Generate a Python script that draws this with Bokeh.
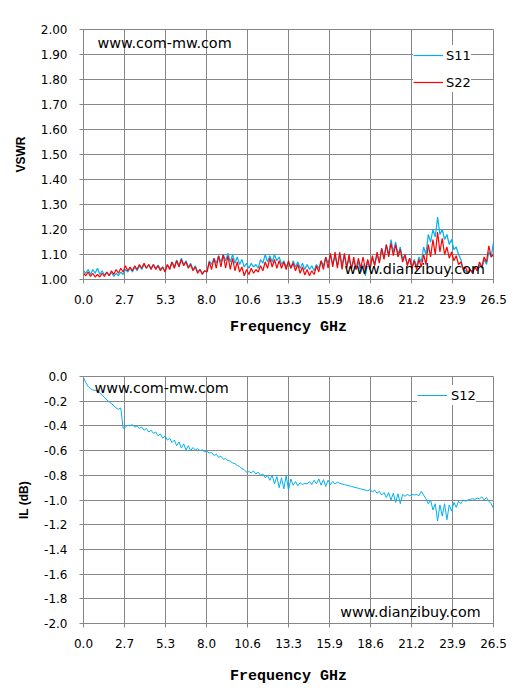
import numpy as np
from bokeh.plotting import figure
from bokeh.models import Range1d, FixedTicker, Label, Legend
from bokeh.layouts import column
from bokeh.embed import file_html
from bokeh.resources import INLINE

# ---------------- data ----------------
x_ticks = [0, 2.65, 5.3, 7.95, 10.6, 13.25, 15.9, 18.55, 21.2, 23.85, 26.5]
x_tick_labels = ["0.0", "2.7", "5.3", "8.0", "10.6", "13.3", "15.9", "18.6", "21.2", "23.9", "26.5"]
vswr_ticks = [1.0, 1.1, 1.2, 1.3, 1.4, 1.5, 1.6, 1.7, 1.8, 1.9, 2.0]
vswr_tick_labels = ["1.00", "1.10", "1.20", "1.30", "1.40", "1.50", "1.60", "1.70", "1.80", "1.90", "2.00"]
il_ticks = [-2.0, -1.8, -1.6, -1.4, -1.2, -1.0, -0.8, -0.6, -0.4, -0.2, 0.0]
il_tick_labels = ["-2.0", "-1.8", "-1.6", "-1.4", "-1.2", "-1.0", "-0.8", "-0.6", "-0.4", "-0.2", "0.0"]

s11 = [
    1.035, 1.025, 1.04, 1.02, 1.04, 1.025, 1.045, 1.02, 1.035, 1.018,
    1.03, 1.015, 1.028, 1.012, 1.025, 1.015, 1.03, 1.02, 1.04, 1.03,
    1.045, 1.03, 1.05, 1.035, 1.055, 1.04, 1.06, 1.045, 1.06, 1.045,
    1.06, 1.045, 1.058, 1.042, 1.05, 1.032, 1.058, 1.045, 1.07, 1.05,
    1.078, 1.055, 1.085, 1.06, 1.075, 1.05, 1.065, 1.04, 1.055, 1.03,
    1.04, 1.025, 1.035, 1.03, 1.075, 1.06, 1.085, 1.065, 1.095, 1.07,
    1.10, 1.075, 1.105, 1.07, 1.10, 1.065, 1.09, 1.06, 1.08, 1.05,
    1.065, 1.045, 1.065, 1.05, 1.06, 1.045, 1.08, 1.065, 1.10, 1.07,
    1.095, 1.07, 1.10, 1.075, 1.09, 1.06, 1.075, 1.05, 1.07, 1.045,
    1.075, 1.05, 1.07, 1.045, 1.065, 1.04, 1.06, 1.04, 1.055, 1.035,
    1.06, 1.045, 1.075, 1.055, 1.09, 1.065, 1.10, 1.06, 1.095, 1.055,
    1.10, 1.06, 1.095, 1.05, 1.085, 1.045, 1.075, 1.04, 1.07, 1.03,
    1.06, 1.015, 1.07, 1.04, 1.085, 1.06, 1.10, 1.07, 1.125, 1.09,
    1.14, 1.10, 1.16, 1.11, 1.15, 1.10, 1.13, 1.08, 1.10, 1.06,
    1.085, 1.05, 1.08, 1.05, 1.09, 1.07, 1.13, 1.10, 1.18, 1.15,
    1.20, 1.17, 1.25, 1.18, 1.20, 1.16, 1.18, 1.14, 1.16, 1.12,
    1.13, 1.10, 1.08, 1.04, 1.035, 1.025, 1.04, 1.03, 1.05, 1.035,
    1.06, 1.045, 1.08, 1.06, 1.11, 1.09, 1.15,
]

s22 = [
    1.025, 1.015, 1.03, 1.012, 1.025, 1.01, 1.02, 1.01, 1.025, 1.012,
    1.03, 1.015, 1.035, 1.02, 1.04, 1.025, 1.045, 1.03, 1.055, 1.035,
    1.05, 1.035, 1.055, 1.04, 1.06, 1.045, 1.065, 1.045, 1.06, 1.04,
    1.06, 1.04, 1.055, 1.035, 1.05, 1.03, 1.06, 1.04, 1.07, 1.045,
    1.075, 1.05, 1.08, 1.055, 1.07, 1.045, 1.06, 1.035, 1.05, 1.025,
    1.04, 1.02, 1.035, 1.03, 1.07, 1.04, 1.085, 1.045, 1.095, 1.05,
    1.10, 1.045, 1.095, 1.04, 1.085, 1.035, 1.07, 1.03, 1.05, 1.015,
    1.04, 1.02, 1.045, 1.025, 1.04, 1.03, 1.055, 1.035, 1.07, 1.045,
    1.085, 1.05, 1.08, 1.045, 1.075, 1.045, 1.07, 1.04, 1.075, 1.045,
    1.065, 1.035, 1.06, 1.025, 1.05, 1.018, 1.04, 1.015, 1.035, 1.02,
    1.055, 1.03, 1.075, 1.04, 1.09, 1.045, 1.105, 1.05, 1.11, 1.045,
    1.11, 1.04, 1.105, 1.045, 1.10, 1.04, 1.09, 1.04, 1.085, 1.045,
    1.09, 1.04, 1.08, 1.045, 1.095, 1.055, 1.11, 1.065, 1.125, 1.08,
    1.14, 1.09, 1.145, 1.095, 1.14, 1.09, 1.12, 1.07, 1.10, 1.055,
    1.085, 1.045, 1.075, 1.04, 1.08, 1.05, 1.10, 1.06, 1.14, 1.09,
    1.16, 1.10, 1.19, 1.11, 1.165, 1.10, 1.13, 1.085, 1.11, 1.075,
    1.095, 1.06, 1.07, 1.04, 1.05, 1.025, 1.04, 1.025, 1.05, 1.035,
    1.07, 1.05, 1.09, 1.07, 1.135, 1.09, 1.10,
]

s12 = [
    -0.01, -0.05, -0.08, -0.10, -0.108, -0.113, -0.118, -0.13, -0.15, -0.17,
    -0.19, -0.205, -0.22, -0.235, -0.255, -0.265, -0.255, -0.42, -0.41, -0.395,
    -0.40, -0.39, -0.41, -0.40, -0.42, -0.41, -0.435, -0.42, -0.45, -0.435,
    -0.46, -0.45, -0.48, -0.465, -0.50, -0.48, -0.515, -0.50, -0.535, -0.515,
    -0.56, -0.53, -0.58, -0.545, -0.595, -0.56, -0.60, -0.575, -0.595, -0.585,
    -0.60, -0.595, -0.61, -0.605, -0.62, -0.615, -0.64, -0.63, -0.655, -0.645,
    -0.67, -0.665, -0.68, -0.685, -0.70, -0.705, -0.72, -0.73, -0.745, -0.755,
    -0.775, -0.77, -0.78, -0.765, -0.79, -0.775, -0.80, -0.79, -0.82, -0.80,
    -0.84, -0.80, -0.87, -0.81, -0.90, -0.82, -0.91, -0.80, -0.92, -0.83,
    -0.88, -0.85, -0.885, -0.86, -0.875, -0.865, -0.87, -0.85, -0.875, -0.84,
    -0.87, -0.83, -0.88, -0.835, -0.89, -0.84, -0.875, -0.85, -0.87, -0.855,
    -0.865, -0.87, -0.875, -0.88, -0.885, -0.89, -0.895, -0.90, -0.905, -0.91,
    -0.915, -0.92, -0.925, -0.915, -0.935, -0.92, -0.945, -0.93, -0.96, -0.94,
    -0.98, -0.94, -1.0, -0.945, -1.02, -0.95, -1.03, -0.955, -0.97, -0.955,
    -0.965, -0.955, -0.96, -0.955, -0.965, -0.93, -0.96, -0.99, -1.03, -1.0,
    -1.08, -1.03, -1.17, -1.04, -1.13, -1.03, -1.16, -1.04, -1.09, -1.02,
    -1.06, -1.01, -1.03, -1.0, -1.01, -1.0, -0.995, -0.99, -0.995, -0.985,
    -0.99, -0.975, -1.0, -0.98, -1.01, -1.03, -1.07,
]

# frequency sweep grid (GHz), one sample per value
f11 = np.linspace(0, 26.5, len(s11))
f22 = np.linspace(0, 26.5, len(s22))
f12 = np.linspace(0, 26.5, len(s12))

BLUE = "#00B0F0"
RED = "#FF0000"
GRID = "#868686"


def style(p, yticks, ylabels, ylabel, xl_standoff):
    p.xaxis.ticker = FixedTicker(ticks=x_ticks)
    p.xaxis.major_label_overrides = {t: l for t, l in zip(x_ticks, x_tick_labels)}
    p.yaxis.ticker = FixedTicker(ticks=yticks)
    p.yaxis.major_label_overrides = {t: l for t, l in zip(yticks, ylabels)}
    p.xgrid.ticker = FixedTicker(ticks=x_ticks)
    p.ygrid.ticker = FixedTicker(ticks=yticks)
    for g in (p.xgrid, p.ygrid):
        g.grid_line_color = GRID
        g.grid_line_width = 1
    p.outline_line_color = GRID
    p.outline_line_width = 1
    for ax in (p.xaxis, p.yaxis):
        ax.axis_line_color = GRID
        ax.major_tick_line_color = GRID
        ax.major_tick_out = 4
        ax.major_tick_in = 0
        ax.minor_tick_line_color = None
        ax.major_label_text_font = "DejaVu Sans"
        ax.major_label_text_font_size = "12px"
        ax.major_label_text_color = "#000000"
    p.xaxis.major_label_standoff = 11
    p.yaxis.major_label_standoff = 12
    p.xaxis.axis_label = "Frequency GHz"
    p.xaxis.axis_label_text_font = "Liberation Mono"
    p.xaxis.axis_label_text_font_style = "bold"
    p.xaxis.axis_label_text_font_size = "15px"
    p.xaxis.axis_label_text_color = "#000000"
    p.xaxis.axis_label_standoff = xl_standoff
    p.yaxis.axis_label = ylabel
    p.yaxis.axis_label_text_font = "Liberation Sans"
    p.yaxis.axis_label_text_font_style = "bold"
    p.yaxis.axis_label_text_font_size = "12px"
    p.yaxis.axis_label_text_color = "#000000"
    p.yaxis.axis_label_standoff = 10
    p.background_fill_color = "white"
    p.border_fill_color = "white"


# ---------------- top: VSWR ----------------
p1 = figure(frame_width=410, frame_height=250, min_border_left=83, min_border_right=20,
            min_border_top=29, min_border_bottom=74,
            x_range=Range1d(0, 26.5), y_range=Range1d(1.0, 2.0),
            output_backend="svg", toolbar_location=None)
style(p1, vswr_ticks, vswr_tick_labels, "VSWR", 12)
r11 = p1.line(f11, s11, line_color=BLUE, line_width=1.2)
r22 = p1.line(f22, s22, line_color=RED, line_width=1.2)
leg1 = Legend(items=[("S11", [r11]), ("S22", [r22])], location=(330, 187),
              background_fill_color="white", background_fill_alpha=1.0,
              border_line_color=None, label_text_font="DejaVu Sans",
              label_text_font_size="13px", label_text_color="#000000",
              glyph_width=30, glyph_height=20,
              label_height=20, spacing=7, padding=6, margin=0, label_standoff=3)
p1.add_layout(leg1)
p1.add_layout(Label(x=0.9, y=1.948, text="www.com-mw.com", text_baseline="middle",
                    text_font="DejaVu Sans", text_font_size="14.4px", text_color="#000000"))
p1.add_layout(Label(x=16.87, y=1.044, text="www.dianzibuy.com", text_baseline="middle",
                    text_font="DejaVu Sans", text_font_size="14.3px", text_color="#000000"))

# ---------------- bottom: IL ----------------
p2 = figure(frame_width=410, frame_height=247, min_border_left=83, min_border_right=20,
            min_border_top=23, min_border_bottom=70,
            x_range=Range1d(0, 26.5), y_range=Range1d(-2.0, 0.0),
            output_backend="svg", toolbar_location=None)
style(p2, il_ticks, il_tick_labels, "IL (dB)", 17)
r12 = p2.line(f12, s12, line_color=BLUE, line_width=1.0)
leg2 = Legend(items=[("S12", [r12])], location=(334, 218),
              background_fill_color="white", background_fill_alpha=1.0,
              border_line_color=None, label_text_font="DejaVu Sans",
              label_text_font_size="13px", label_text_color="#000000",
              glyph_width=30, glyph_height=20,
              label_height=20, spacing=0, padding=3, margin=0, label_standoff=4)
p2.add_layout(leg2)
p2.add_layout(Label(x=0.71, y=-0.092, text="www.com-mw.com", text_baseline="middle",
                    text_font="DejaVu Sans", text_font_size="14.4px", text_color="#000000"))
p2.add_layout(Label(x=16.6, y=-1.903, text="www.dianzibuy.com", text_baseline="middle",
                    text_font="DejaVu Sans", text_font_size="14.3px", text_color="#000000"))

layout = column(p1, p2)
open("out.html", "w").write(file_html(layout, INLINE))
